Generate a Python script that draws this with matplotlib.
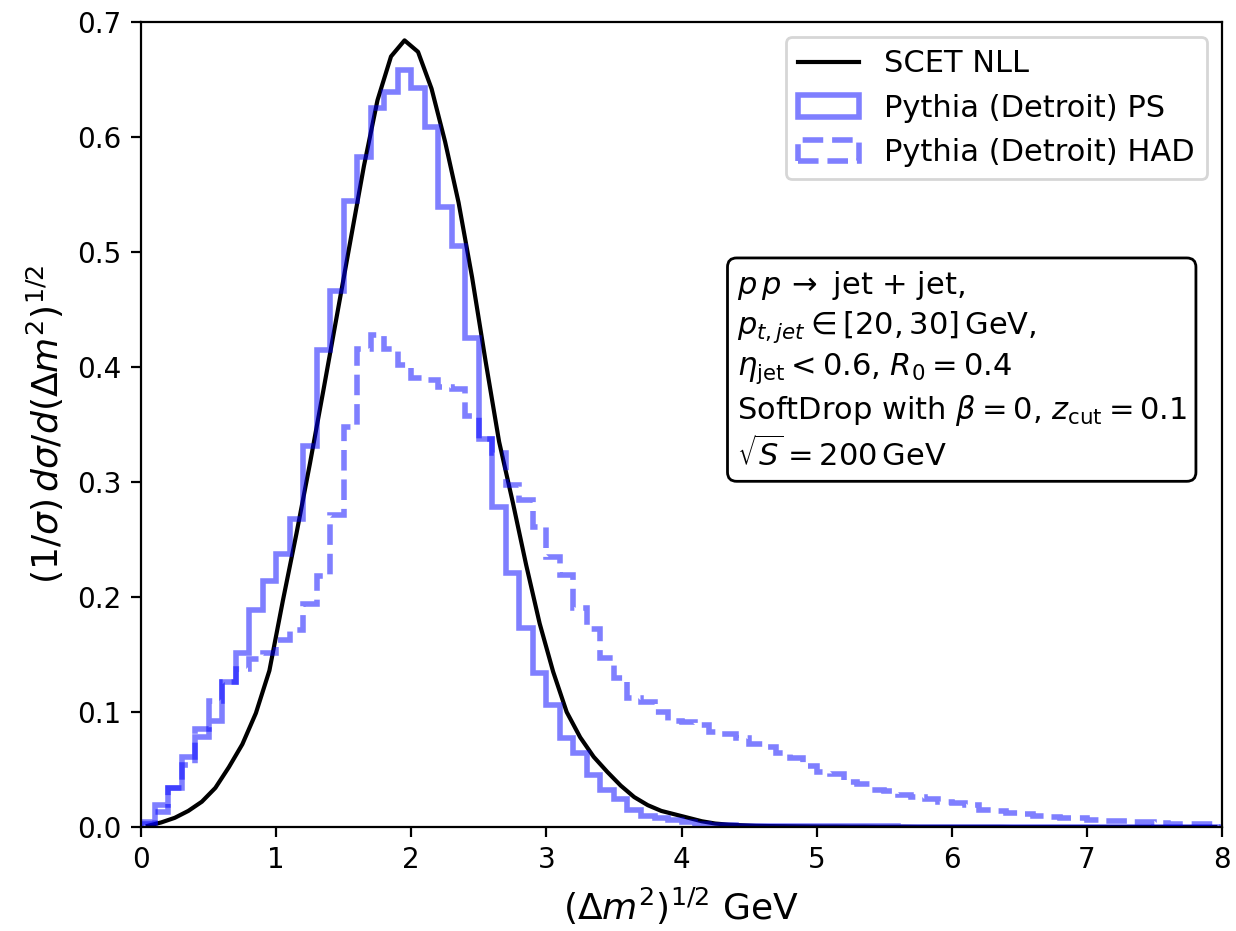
"""SoftDrop groomed mass difference: SCET NLL vs Pythia (Detroit) PS / HAD."""

import matplotlib

matplotlib.use("Agg")
import matplotlib.pyplot as plt
import numpy as np

DPI = 200
OUTPUT = "out.png"

# histogram bins: 0 .. 8 GeV in steps of 0.1
BIN_EDGES = np.linspace(0.0, 8.0, 81)

# Pythia (Detroit) parton shower, one value per bin
PS_VALUES = [
    0.004, 0.019, 0.034, 0.061, 0.078, 0.092, 0.126, 0.151, 0.189, 0.214,
    0.237, 0.268, 0.331, 0.415, 0.466, 0.544, 0.583, 0.625, 0.639, 0.658,
    0.643, 0.609, 0.539, 0.505, 0.425, 0.337, 0.278, 0.221, 0.173, 0.134,
    0.106, 0.077, 0.064, 0.045, 0.032, 0.024, 0.015, 0.010, 0.0075, 0.006,
    0.004, 0.003, 0.002, 0.0015, 0.0012, 0.001, 0.0009, 0.0008, 0.0008, 0.0007,
    0.0007, 0.0006, 0.0006, 0.0005, 0.0005, 0.0005, 0.0004, 0.0004, 0.0004, 0.0003,
    0.0003, 0.0003, 0.0003, 0.0002, 0.0002, 0.0002, 0.0002, 0.0002, 0.0002, 0.0001,
    0.0001, 0.0001, 0.0001, 0.0001, 0.0001, 0.0001, 0.0001, 0.0001, 0.0001, 0.0001,
]

# Pythia (Detroit) with hadronisation
HAD_VALUES = [
    0.003, 0.013, 0.034, 0.054, 0.085, 0.110, 0.126, 0.137, 0.146, 0.151,
    0.163, 0.171, 0.194, 0.218, 0.271, 0.348, 0.416, 0.428, 0.416, 0.402,
    0.390, 0.389, 0.383, 0.381, 0.357, 0.337, 0.325, 0.297, 0.284, 0.261,
    0.235, 0.219, 0.190, 0.172, 0.147, 0.130, 0.112, 0.109, 0.100, 0.092,
    0.091, 0.089, 0.083, 0.081, 0.077, 0.072, 0.070, 0.064, 0.060, 0.053,
    0.048, 0.046, 0.039, 0.037, 0.032, 0.031, 0.028, 0.026, 0.024, 0.022,
    0.021, 0.019, 0.015, 0.014, 0.0125, 0.011, 0.0096, 0.009, 0.008, 0.0075,
    0.006, 0.0055, 0.005, 0.0046, 0.004, 0.0032, 0.003, 0.0028, 0.0027, 0.0025,
]

# SCET NLL prediction, sampled at the bin centres
SCET_X = np.arange(0.05, 8.0, 0.1)
SCET_Y = [
    0.001, 0.004, 0.008, 0.014, 0.022, 0.034, 0.052, 0.072, 0.099, 0.136,
    0.197, 0.255, 0.316, 0.380, 0.445, 0.510, 0.575, 0.632, 0.670, 0.684,
    0.674, 0.642, 0.596, 0.543, 0.478, 0.405, 0.335, 0.283, 0.228, 0.177,
    0.135, 0.100, 0.078, 0.061, 0.048, 0.036, 0.026, 0.019, 0.014, 0.011,
    0.008, 0.005, 0.003, 0.002, 0.0015, 0.001, 0.0008, 0.0007, 0.0006, 0.0005,
    0.0004, 0.0004, 0.0003, 0.0003, 0.0002, 0.0002, 0.0002, 0.0001, 0.0001, 0.0001,
    0.0001, 0.0001, 0.0001, 0.0001, 0.0, 0.0, 0.0, 0.0, 0.0, 0.0,
    0.0, 0.0, 0.0, 0.0, 0.0, 0.0, 0.0, 0.0, 0.0, 0.0,
]

INFO_LINES = [
    r"$p\,p\,\rightarrow$ jet + jet,",
    r"$p_{t,jet}\in[20,30]\,\mathrm{GeV}$,",
    r"$\eta_{\rm jet}<0.6$, $R_0=0.4$",
    r"SoftDrop with $\beta=0$, $z_{\rm cut}=0.1$",
    r"$\sqrt{S}=200\,\mathrm{GeV}$",
]


def main():
    fig, ax = plt.subplots(figsize=(1236 / DPI, 931 / DPI), dpi=DPI)
    fig.subplots_adjust(left=0.1141, right=0.9887, top=0.9764, bottom=0.1117)

    centres = 0.5 * (BIN_EDGES[:-1] + BIN_EDGES[1:])

    ax.plot(SCET_X, SCET_Y, color="black", lw=1.5, label="SCET NLL")
    ax.hist(centres, bins=BIN_EDGES, weights=PS_VALUES, histtype="step",
            color="blue", alpha=0.5, lw=2, label="Pythia (Detroit) PS")
    ax.hist(centres, bins=BIN_EDGES, weights=HAD_VALUES, histtype="step",
            color="blue", alpha=0.5, lw=2, ls="--",
            label="Pythia (Detroit) HAD")

    ax.set_xlim(0, 8)
    ax.set_ylim(0, 0.7)
    ax.set_xlabel(r"$(\Delta m^2)^{1/2}$ GeV", fontsize=13)
    ax.set_ylabel(r"$(1/\sigma)\, d\sigma/d(\Delta m^2)^{1/2}$", fontsize=13)

    ax.legend(loc="upper right", fontsize=11)
    ax.text(0.551, 0.693, "\n".join(INFO_LINES), transform=ax.transAxes,
            fontsize=11, va="top", ha="left", linespacing=1.27,
            bbox=dict(boxstyle="round", fc="white", ec="black"))

    fig.savefig(OUTPUT, dpi=DPI)
    plt.close(fig)


if __name__ == "__main__":
    main()
